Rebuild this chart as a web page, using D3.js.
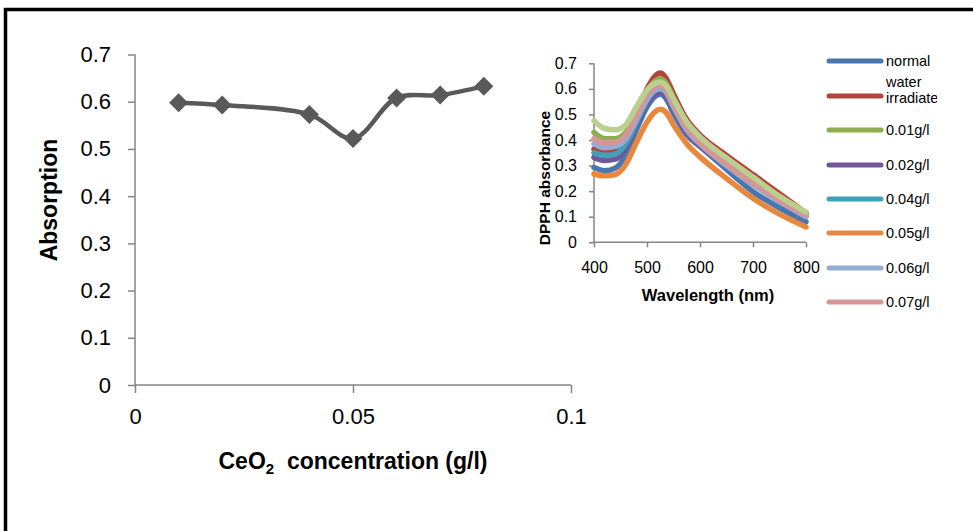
<!DOCTYPE html>
<html><head><meta charset="utf-8">
<script src="https://cdn.jsdelivr.net/npm/d3@7"></script>
<style>
html,body{margin:0;padding:0;background:#fff;}
svg text{font-family:"Liberation Sans",Arial,sans-serif;fill:#000;}
</style></head>
<body>
<svg id="chart" width="973" height="531"></svg>
<script>
// ---- Main chart data ----
const concentrations = [0.01, 0.02, 0.04, 0.05, 0.06, 0.07, 0.08];
const absorption = [0.598, 0.593, 0.573, 0.522, 0.608, 0.614, 0.633];
const mainYTicks = [0, 0.1, 0.2, 0.3, 0.4, 0.5, 0.6, 0.7];
const mainXTicks = [0, 0.05, 0.1];

// ---- Inset spectra data ----
const wavelengths = [400, 420, 440, 460, 480, 500, 515, 525, 535, 550, 575, 600, 650, 700, 750, 800];
const seriesNames = ["normal", "water irradiate", "0.01g/l", "0.02g/l", "0.04g/l", "0.05g/l", "0.06g/l", "0.07g/l", "0.08g/l"];
const seriesColors = ["#4a76b0", "#b5443f", "#8dae4c", "#715796", "#41a0b9", "#e8873e", "#93abd5", "#d69695", "#bad08f"];
const normal    = [0.293, 0.280, 0.290, 0.340, 0.440, 0.530, 0.570, 0.580, 0.565, 0.505, 0.420, 0.375, 0.285, 0.198, 0.135, 0.080];
const waterIrr  = [0.365, 0.350, 0.355, 0.400, 0.500, 0.600, 0.650, 0.662, 0.645, 0.580, 0.480, 0.420, 0.340, 0.265, 0.190, 0.115];
const c001      = [0.430, 0.405, 0.405, 0.430, 0.510, 0.590, 0.630, 0.640, 0.625, 0.565, 0.470, 0.410, 0.320, 0.245, 0.175, 0.110];
const c002      = [0.332, 0.320, 0.325, 0.370, 0.460, 0.545, 0.580, 0.588, 0.575, 0.520, 0.430, 0.380, 0.300, 0.230, 0.160, 0.100];
const c004      = [0.350, 0.340, 0.345, 0.385, 0.470, 0.555, 0.595, 0.605, 0.590, 0.530, 0.440, 0.390, 0.310, 0.235, 0.165, 0.105];
const c005      = [0.267, 0.260, 0.265, 0.305, 0.390, 0.470, 0.510, 0.520, 0.510, 0.460, 0.385, 0.334, 0.250, 0.172, 0.110, 0.060];
const c006      = [0.385, 0.370, 0.375, 0.405, 0.480, 0.560, 0.595, 0.600, 0.590, 0.530, 0.440, 0.385, 0.300, 0.225, 0.160, 0.100];
const c007      = [0.405, 0.390, 0.392, 0.420, 0.495, 0.575, 0.608, 0.614, 0.600, 0.540, 0.450, 0.390, 0.305, 0.232, 0.165, 0.105];
const c008      = [0.475, 0.445, 0.440, 0.460, 0.530, 0.595, 0.622, 0.627, 0.615, 0.560, 0.470, 0.412, 0.330, 0.255, 0.180, 0.118];
const spectra = [normal, waterIrr, c001, c002, c004, c005, c006, c007, c008];
const insetYTicks = [0, 0.1, 0.2, 0.3, 0.4, 0.5, 0.6, 0.7];
const insetXTicks = [400, 500, 600, 700, 800];

const svg = d3.select("#chart");
const axisColor = "#868686";

// frame (top and left borders)
svg.append("path").attr("d", "M5.5,531 V9.5 H973").attr("fill", "none")
  .attr("stroke", "#000").attr("stroke-width", 3.5);

// ---- Main chart ----
const x = d3.scaleLinear().domain([0, 0.1]).range([135, 571]);
const y = d3.scaleLinear().domain([0, 0.7]).range([385, 54.5]);

const gMain = svg.append("g");
const yAx = gMain.append("g").attr("transform", `translate(${x(0)},0)`)
  .call(d3.axisLeft(y).tickValues(mainYTicks).tickSize(7).tickPadding(17)
    .tickFormat(d => d === 0 ? "0" : d3.format(".1f")(d)));
const xAx = gMain.append("g").attr("transform", `translate(0,${y(0)})`)
  .call(d3.axisBottom(x).tickValues(mainXTicks).tickSize(8).tickPadding(15)
    .tickFormat(d => d === 0 ? "0" : (d === 0.1 ? "0.1" : "0.05")));
[yAx, xAx].forEach(a => {
  a.select(".domain").attr("stroke", axisColor).attr("stroke-width", 1.5);
  a.selectAll(".tick line").attr("stroke", axisColor).attr("stroke-width", 1.5);
  a.selectAll("text").attr("font-size", 22).attr("fill", "#000")
    .attr("font-family", "Liberation Sans, Arial, sans-serif");
});
yAx.select(".domain").attr("d", `M0,${y(0.7)}H0V${y(0)}`);
xAx.select(".domain").attr("d", `M${x(0)},0H${x(0.1)}`);

const mainPts = concentrations.map((c, i) => [c, absorption[i]]);
gMain.append("path").datum(mainPts)
  .attr("fill", "none").attr("stroke", "#595959").attr("stroke-width", 4.5)
  .attr("stroke-linejoin", "round")
  .attr("d", d3.line().x(d => x(d[0])).y(d => y(d[1])).curve(d3.curveCatmullRom.alpha(0.5)));
gMain.selectAll("path.marker").data(mainPts).enter().append("path")
  .attr("class", "marker")
  .attr("transform", d => `translate(${x(d[0])},${y(d[1])})`)
  .attr("d", "M0,-9.5L9.5,0L0,9.5L-9.5,0Z")
  .attr("fill", "#595959");

gMain.append("text").attr("transform", "translate(57,200) rotate(-90)")
  .attr("text-anchor", "middle").attr("font-weight", "bold").attr("font-size", 23)
  .text("Absorption");
const xt = gMain.append("text").attr("x", 353).attr("y", 469)
  .attr("text-anchor", "middle").attr("font-weight", "bold").attr("font-size", 23);
xt.append("tspan").text("CeO");
xt.append("tspan").attr("font-size", 15).attr("dy", 5).text("2");
xt.append("tspan").attr("dy", -5).text("\u00a0 concentration (g/l)");

// ---- Inset chart ----
const xi = d3.scaleLinear().domain([400, 800]).range([594, 806]);
const yi = d3.scaleLinear().domain([0, 0.7]).range([242.3, 63.3]);
const gIn = svg.append("g");
const yiAx = gIn.append("g").attr("transform", `translate(${xi(400)},0)`)
  .call(d3.axisLeft(yi).tickValues(insetYTicks).tickSize(5).tickPadding(12)
    .tickFormat(d => d === 0 ? "0" : d3.format(".1f")(d)));
const xiAx = gIn.append("g").attr("transform", `translate(0,${yi(0)})`)
  .call(d3.axisBottom(xi).tickValues(insetXTicks).tickSize(5).tickPadding(14));
[yiAx, xiAx].forEach(a => {
  a.select(".domain").attr("stroke", axisColor).attr("stroke-width", 1.5);
  a.selectAll(".tick line").attr("stroke", axisColor).attr("stroke-width", 1.5);
  a.selectAll("text").attr("font-size", 16).attr("fill", "#000")
    .attr("font-family", "Liberation Sans, Arial, sans-serif");
});
yiAx.select(".domain").attr("d", `M0,${yi(0.7)}H0V${yi(0)}`);
xiAx.select(".domain").attr("d", `M${xi(400)},0H${xi(800)}`);

const lineI = d3.line().x((d, i) => xi(wavelengths[i])).y(d => yi(d)).curve(d3.curveMonotoneX);
gIn.selectAll("path.spec").data(spectra).enter().append("path")
  .attr("class", "spec")
  .attr("fill", "none")
  .attr("stroke", (d, i) => seriesColors[i])
  .attr("stroke-width", 5.5)
  .attr("stroke-linecap", "round").attr("stroke-linejoin", "round")
  .attr("d", d => lineI(d));

gIn.append("text").attr("transform", "translate(550,178) rotate(-90)")
  .attr("text-anchor", "middle").attr("font-weight", "bold").attr("font-size", 15.5)
  .text("DPPH absorbance");
gIn.append("text").attr("x", 708).attr("y", 301)
  .attr("text-anchor", "middle").attr("font-weight", "bold").attr("font-size", 16.5)
  .text("Wavelength (nm)");

// ---- Legend ----
svg.append("clipPath").attr("id", "legclip").append("rect")
  .attr("x", 820).attr("y", 40).attr("width", 117).attr("height", 280);
const legend = svg.append("g").attr("clip-path", "url(#legclip)");
const legendY = [61, 96, 130, 165, 199, 233, 268, 302, 337];
seriesNames.forEach((name, i) => {
  const g = legend.append("g").attr("transform", `translate(0,${legendY[i]})`);
  g.append("line").attr("x1", 829).attr("x2", 881).attr("y1", 0).attr("y2", 0)
    .attr("stroke", seriesColors[i]).attr("stroke-width", 5).attr("stroke-linecap", "round");
  if (name === "water irradiate") {
    g.append("text").attr("x", 886).attr("y", -9).attr("font-size", 14.5).text("water");
    g.append("text").attr("x", 886).attr("y", 7).attr("font-size", 14.5).text("irradiate");
  } else {
    g.append("text").attr("x", 886).attr("y", 5).attr("font-size", 14.5).text(name);
  }
});
</script>
</body></html>
